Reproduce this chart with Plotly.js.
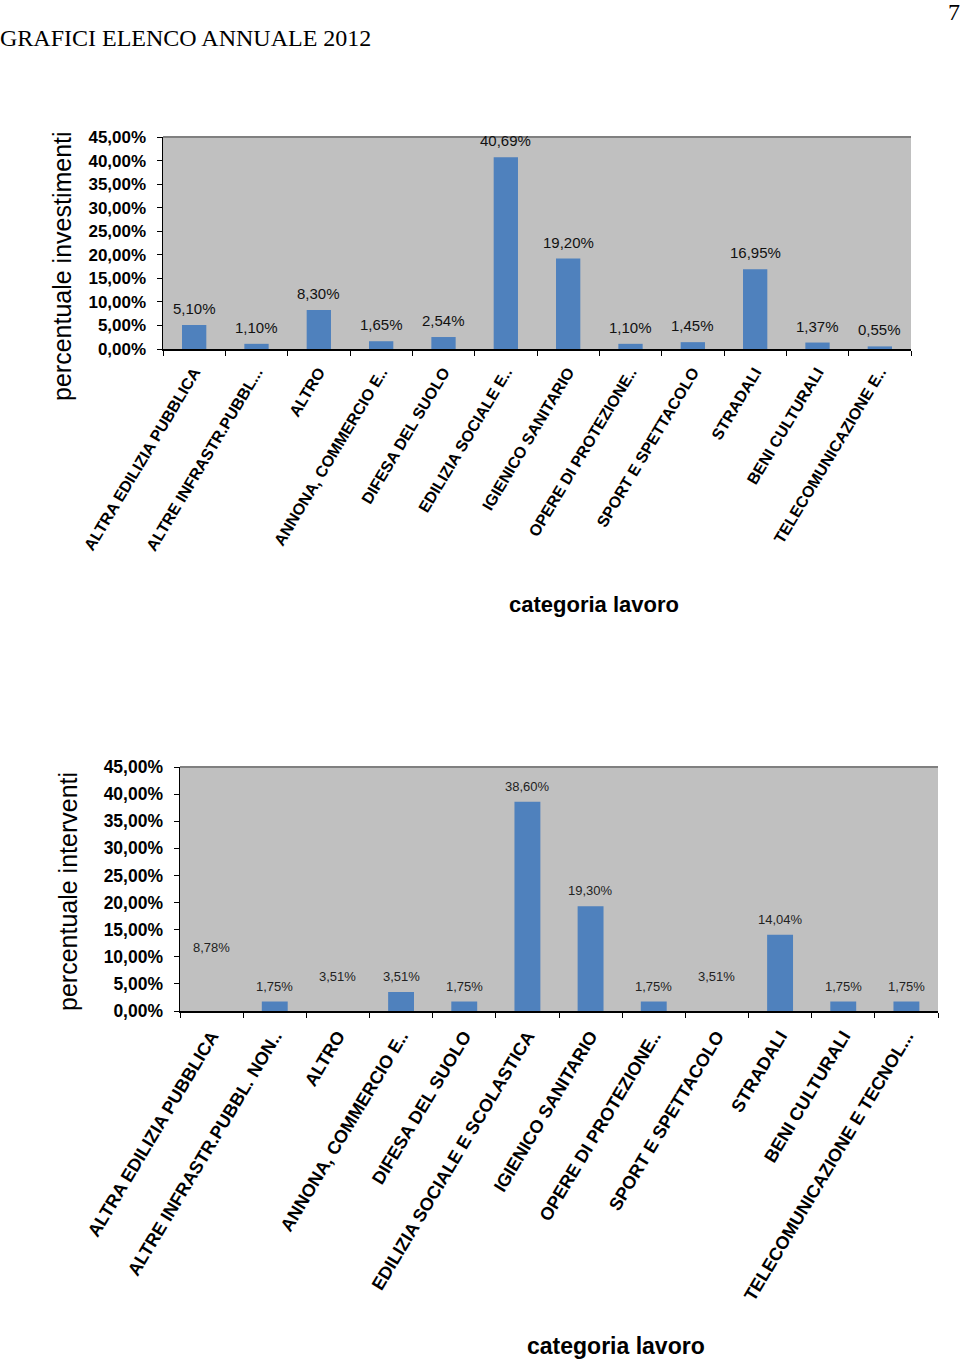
<!DOCTYPE html>
<html>
<head>
<meta charset="utf-8">
<script src="https://cdn.plot.ly/plotly-3.0.1.min.js"></script>
<style>
  body { margin: 0; background: #fff; }
  #chart { width: 960px; height: 1362px; }
</style>
</head>
<body>
<div id="chart"></div>
<script>
// categorie e valori (percentuali)
const categorieInvestimenti = [
    "ALTRA EDILIZIA PUBBLICA", "ALTRE INFRASTR.PUBBL...", "ALTRO", "ANNONA, COMMERCIO E..",
    "DIFESA DEL SUOLO", "EDILIZIA SOCIALE E..", "IGIENICO SANITARIO", "OPERE DI PROTEZIONE..",
    "SPORT E SPETTACOLO", "STRADALI", "BENI CULTURALI", "TELECOMUNICAZIONE E.."
];
const percInvestimenti = [5.10, 1.10, 8.30, 1.65, 2.54, 40.69, 19.20, 1.10, 1.45, 16.95, 1.37, 0.55];

const categorieInterventi = [
    "ALTRA EDILIZIA PUBBLICA", "ALTRE INFRASTR.PUBBL. NON..", "ALTRO", "ANNONA, COMMERCIO E..",
    "DIFESA DEL SUOLO", "EDILIZIA SOCIALE E SCOLASTICA", "IGIENICO SANITARIO", "OPERE DI PROTEZIONE..",
    "SPORT E SPETTACOLO", "STRADALI", "BENI CULTURALI", "TELECOMUNICAZIONE E TECNOL..."
];
const percInterventi = [8.78, 1.75, 3.51, 3.51, 1.75, 38.60, 19.30, 1.75, 3.51, 14.04, 1.75, 1.75];

const W = 960, H = 1362;
const px = x => x / W;
const py = y => 1 - y / H;

const blu = '#4f81bd';
// nel secondo grafico alcune barre non sono disegnate, resta solo l'etichetta
const barreNascoste = [0, 2, 8];
const coloriInterventi = percInterventi.map((v, i) => barreNascoste.includes(i) ? 'rgba(0,0,0,0)' : blu);

const fmt = v => v.toFixed(2).replace('.', ',') + '%';

const traces = [
    {
        x: categorieInvestimenti,
        y: percInvestimenti,
        type: 'bar',
        xaxis: 'x', yaxis: 'y',
        width: 0.39,
        marker: { color: blu },
        hoverinfo: 'skip'
    },
    {
        x: categorieInterventi,
        y: percInterventi,
        type: 'bar',
        xaxis: 'x2', yaxis: 'y2',
        width: 0.41,
        marker: { color: coloriInterventi },
        hoverinfo: 'skip'
    }
];

// etichette dei valori sopra le barre
function etichette(cats, vals, xref, yref, size, color) {
    return cats.map((c, i) => ({
        text: fmt(vals[i]), x: c, y: vals[i], xref: xref, yref: yref,
        xanchor: 'center', yanchor: 'bottom', yshift: 6, showarrow: false,
        font: { family: 'Liberation Sans, Arial', size: size, color: color }
    }));
}

const xBase = {
    type: 'category',
    showline: true, linecolor: '#000', linewidth: 1.5,
    ticks: 'outside', tickson: 'boundaries', ticklen: 5, tickcolor: '#000',
    tickangle: -59, ticklabelstandoff: 6,
    showgrid: false, zeroline: false, fixedrange: true
};
const yBase = {
    range: [0, 45], dtick: 5, tick0: 0,
    tickformat: '.2f', ticksuffix: '%',
    showline: true, linecolor: '#000', linewidth: 1.5,
    ticks: 'outside', ticklen: 5, tickcolor: '#000', ticklabelstandoff: 7,
    showgrid: false, zeroline: false, fixedrange: true
};

const layout = {
    width: W, height: H,
    margin: { l: 0, r: 0, t: 0, b: 0 },
    paper_bgcolor: '#fff',
    plot_bgcolor: '#c0c0c0',
    separators: ',.',
    showlegend: false,
    font: { family: 'Liberation Sans, Arial', color: '#000' },
    xaxis: Object.assign({}, xBase, {
        domain: [px(163), px(911)], anchor: 'y',
        tickfont: { family: 'Liberation Sans, Arial', size: 16, weight: 'bold', color: '#000' }
    }),
    yaxis: Object.assign({}, yBase, {
        domain: [py(349), py(137)], anchor: 'x',
        tickfont: { family: 'Liberation Sans, Arial', size: 17, weight: 'bold', color: '#000' }
    }),
    xaxis2: Object.assign({}, xBase, {
        domain: [px(180), px(938)], anchor: 'y2',
        tickfont: { family: 'Liberation Sans, Arial', size: 18, weight: 'bold', color: '#000' }
    }),
    yaxis2: Object.assign({}, yBase, {
        domain: [py(1011), py(767)], anchor: 'x2',
        tickfont: { family: 'Liberation Sans, Arial', size: 17.5, weight: 'bold', color: '#000' }
    }),
    shapes: [
        { type: 'line', xref: 'x domain', yref: 'y domain', x0: 0, x1: 1, y0: 1, y1: 1,
          line: { color: '#808080', width: 2 } },
        { type: 'line', xref: 'x2 domain', yref: 'y2 domain', x0: 0, x1: 1, y0: 1, y1: 1,
          line: { color: '#808080', width: 2 } }
    ],
    annotations: [
        { text: 'GRAFICI ELENCO ANNUALE 2012', xref: 'paper', yref: 'paper',
          x: px(-2), y: py(38), xanchor: 'left', yanchor: 'middle', showarrow: false,
          font: { family: 'Liberation Serif, Times New Roman', size: 24, color: '#000' } },
        { text: '7', xref: 'paper', yref: 'paper',
          x: px(962), y: py(12), xanchor: 'right', yanchor: 'middle', showarrow: false,
          font: { family: 'Liberation Serif, Times New Roman', size: 24, color: '#000' } },
        { text: 'percentuale investimenti', xref: 'paper', yref: 'paper',
          x: px(62), y: py(266), xanchor: 'center', yanchor: 'middle', textangle: -90, showarrow: false,
          font: { size: 25, color: '#000' } },
        { text: 'categoria lavoro', xref: 'paper', yref: 'paper',
          x: px(594), y: py(604), xanchor: 'center', yanchor: 'middle', showarrow: false,
          font: { size: 22, weight: 'bold', color: '#000' } },
        { text: 'percentuale interventi', xref: 'paper', yref: 'paper',
          x: px(68), y: py(892), xanchor: 'center', yanchor: 'middle', textangle: -90, showarrow: false,
          font: { size: 25, color: '#000' } },
        { text: 'categoria lavoro', xref: 'paper', yref: 'paper',
          x: px(616), y: py(1346), xanchor: 'center', yanchor: 'middle', showarrow: false,
          font: { size: 23, weight: 'bold', color: '#000' } }
    ]
        .concat(etichette(categorieInvestimenti, percInvestimenti, 'x', 'y', 15, '#111'))
        .concat(etichette(categorieInterventi, percInterventi, 'x2', 'y2', 13, '#222'))
};

Plotly.newPlot('chart', traces, layout, { displayModeBar: false, staticPlot: true });
</script>
</body>
</html>
